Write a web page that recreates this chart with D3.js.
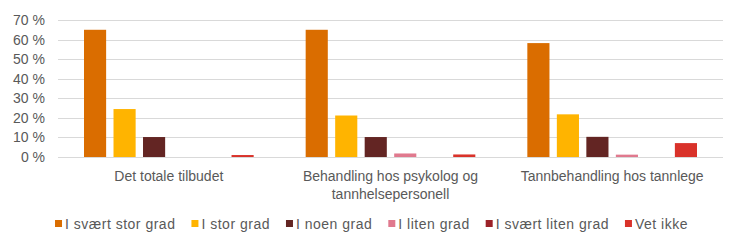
<!DOCTYPE html>
<html>
<head>
<meta charset="utf-8">
<script src="https://cdn.jsdelivr.net/npm/d3@7"></script>
<style>
  body { margin: 0; background: #fff; }
  text { font-family: "Liberation Sans", Arial, sans-serif; fill: #595959; }
</style>
</head>
<body>
<div id="chart"></div>
<script>
/* DATA */
const categories = ["Det totale tilbudet", "Behandling hos psykolog og tannhelsepersonell", "Tannbehandling hos tannlege"];
const categoryLines = [["Det totale tilbudet"], ["Behandling hos psykolog og", "tannhelsepersonell"], ["Tannbehandling hos tannlege"]];
const seriesNames = ["I svært stor grad", "I stor grad", "I noen grad", "I liten grad", "I svært liten grad", "Vet ikke"];
const seriesColors = ["#DA6D00", "#FFB400", "#632523", "#E0798E", "#9B2228", "#D9322A"];
const values = [
  [65, 65, 58.2],     // I svært stor grad
  [24.5, 21.2, 21.8], // I stor grad
  [10.2, 10.2, 10.3], // I noen grad
  [0, 1.8, 1.2],      // I liten grad
  [0, 0, 0],          // I svært liten grad
  [1, 1.3, 7.1]       // Vet ikke
];
const yTicks = [0, 10, 20, 30, 40, 50, 60, 70];

/* LAYOUT */
const width = 743, height = 241;
const margin = { top: 20, left: 58, right: 20 };
const plotBottom = 157;

const svg = d3.select("#chart").append("svg")
  .attr("width", width)
  .attr("height", height);

const x0 = d3.scaleBand()
  .domain(categories)
  .range([margin.left, width - margin.right]);

const groupPad = 26; // empty space at each side of a group of bars
const x1 = d3.scaleBand()
  .domain(seriesNames)
  .range([groupPad, x0.bandwidth() - groupPad])
  .paddingInner(0.25);

const y = d3.scaleLinear()
  .domain([0, 70])
  .range([plotBottom, margin.top]);

// gridlines
svg.append("g")
  .selectAll("line")
  .data(yTicks)
  .join("line")
  .attr("x1", margin.left)
  .attr("x2", width - margin.right)
  .attr("y1", d => Math.round(y(d)) + 0.5)
  .attr("y2", d => Math.round(y(d)) + 0.5)
  .attr("stroke", "#d9d9d9")
  .attr("stroke-width", 1);

// y tick labels
const yAxis = d3.axisLeft(y)
  .tickValues(yTicks)
  .tickFormat(d => d + " %")
  .tickSize(0)
  .tickPadding(13);

svg.append("g")
  .attr("transform", `translate(${margin.left}, 0)`)
  .call(yAxis)
  .call(g => g.select(".domain").remove())
  .selectAll("text")
  .attr("font-size", 14)
  .attr("fill", "#595959")
  .attr("font-family", "'Liberation Sans', Arial, sans-serif");

// bars
const groups = svg.append("g")
  .selectAll("g")
  .data(seriesNames)
  .join("g")
  .attr("fill", (d, i) => seriesColors[i]);

groups.selectAll("rect")
  .data((s, i) => categories.map((c, j) => ({ cat: c, series: s, value: values[i][j] })))
  .join("rect")
  .attr("x", d => x0(d.cat) + x1(d.series))
  .attr("width", x1.bandwidth())
  .attr("y", d => y(d.value))
  .attr("height", d => plotBottom - y(d.value));

// category labels
const catLabels = svg.append("g")
  .selectAll("text")
  .data(categories)
  .join("text")
  .attr("text-anchor", "middle")
  .attr("font-size", 14)
  .attr("x", d => x0(d) + x0.bandwidth() / 2)
  .attr("y", 181);

catLabels.selectAll("tspan")
  .data((d, i) => categoryLines[i])
  .join("tspan")
  .attr("x", function() { return this.parentNode.getAttribute("x"); })
  .attr("dy", (d, i) => i === 0 ? 0 : 18)
  .text(d => d);

// legend
const legend = svg.append("g").attr("transform", "translate(0, 224)");
const items = legend.selectAll("g")
  .data(seriesNames)
  .join("g");

items.append("rect")
  .attr("width", 7)
  .attr("height", 7)
  .attr("y", -4)
  .attr("fill", (d, i) => seriesColors[i]);

items.append("text")
  .attr("x", 10)
  .attr("y", 5)
  .attr("font-size", 14)
  .attr("letter-spacing", 0.5)
  .text(d => d);

// place legend items side by side, centred
const gap = 16;
let offsets = [], xPos = 0;
items.each(function() {
  offsets.push(xPos);
  xPos += 10 + this.querySelector("text").getComputedTextLength() + gap;
});
const total = xPos - gap;
const start = (width - total) / 2;
items.attr("transform", (d, i) => `translate(${start + offsets[i]}, 0)`);
</script>
</body>
</html>
